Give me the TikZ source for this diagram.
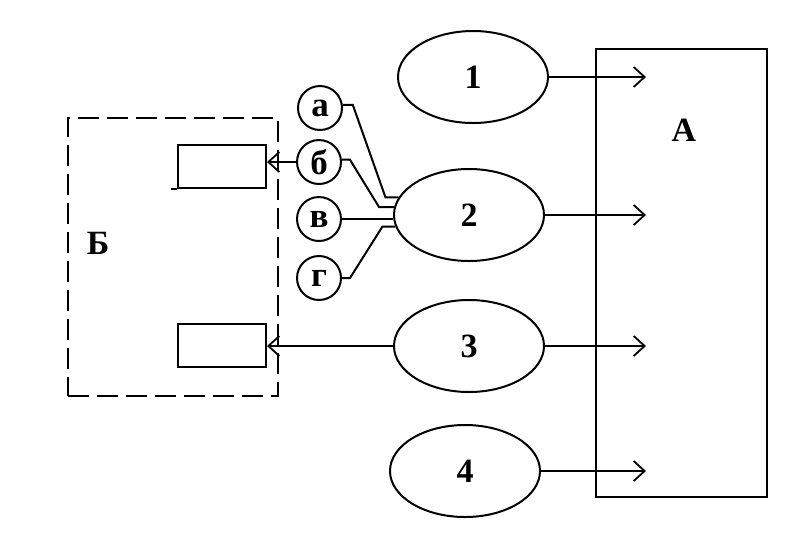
\documentclass[tikz,border=0pt]{standalone}
\usepackage{fontspec}
\setmainfont{Liberation Serif}
\usetikzlibrary{shapes.geometric,arrows.meta,calc}
\begin{document}
\begin{tikzpicture}[x=1pt,y=-1pt,
  every path/.style={line width=2pt},
  lbl/.style={font=\fontsize{34}{34}\selectfont\bfseries},
  oval/.style={draw,ellipse,minimum width=150pt,minimum height=92pt,inner sep=0pt,lbl},
  sml/.style={draw,circle,minimum size=44pt,inner sep=0pt,font=\fontsize{35}{35}\selectfont\bfseries},
  blk/.style={draw,rectangle,minimum width=88pt,minimum height=43pt,inner sep=0pt},
  arr/.style={-{Straight Barb[length=11pt,width=20pt,line width=1.8pt]}}
]
\useasboundingbox (0,0) rectangle (789,550);
% box A
\node[draw,rectangle,minimum width=171pt,minimum height=448pt,inner sep=0pt] (A) at (681.5,273) {};
\node[lbl] (Alab) at (684,130) {А};
% dashed box
\node[draw,rectangle,dash pattern=on 21pt off 8pt,minimum width=210pt,minimum height=278pt,inner sep=0pt] (B) at (173,257) {};
\node[lbl] (Blab) at (98,243) {Б};
% small rects
\node[blk] (r1) at (222,166) {};
\draw (r1.south west) -- ++(-6,0);
\node[blk] (r2) at (222,345) {};
% ellipses
\node[oval] (e1) at (473,77) {1};
\node[oval] (e2) at (469,215) {2};
\node[oval] (e3) at (469,346) {3};
\node[oval] (e4) at (465,471) {4};
% circles
\node[sml] (ca) at (320,108) {а};
\node[sml] (cb) at (319,162) {б};
\node[sml] (cv) at (319,219) {в};
\node[sml] (cg) at (319,278) {г};
% connectors to ellipse 2
\draw (ca.8) -- ++(10,0) -- ($(e2.166)+(-13,0)$) -- (e2.166);
\draw (cb.6) -- ++(8,0) -- ($(e2.174.5)+(-15,0)$) -- (e2.174.5);
\draw (cv.east) -- (e2.west |- cv.east);
\draw (cg.east) -- ++(8,0) -- ($(e2.189.5)+(-13,0)$) -- (e2.189.5);
% arrows into A
\coordinate (tx) at (646,0);
\draw[arr] (e1.east) -- (e1.east -| tx);
\draw[arr] (e2.east) -- (e2.east -| tx);
\draw[arr] (e3.east) -- (e3.east -| tx);
\draw[arr] (e4.east) -- (e4.east -| tx);
% arrows into rects
\draw[arr] (cb.west) -- (r1.east |- cb.west);
\draw[arr] (e3.west) -- (r2.east |- e3.west);
\end{tikzpicture}
\end{document}
